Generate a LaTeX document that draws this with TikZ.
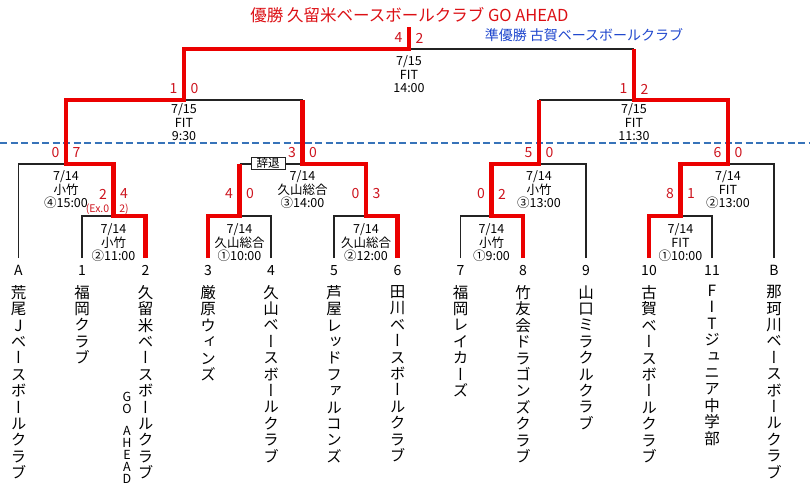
\documentclass[tikz,border=0pt]{standalone}
\usepackage{fontspec}
\setmainfont{Noto Sans CJK JP}
\newfontfamily\tatefont[RawFeature=+vert]{Noto Sans CJK JP}
\definecolor{winred}{RGB}{235, 0, 0}
\definecolor{scorered}{RGB}{205, 20, 30}
\definecolor{titlered}{RGB}{220, 15, 20}
\definecolor{runnerblue}{RGB}{30, 70, 205}
\definecolor{dashblue}{RGB}{55, 115, 185}
\definecolor{linegray}{RGB}{35, 35, 35}
\usepackage{tikz}
\usetikzlibrary{positioning}

% vertical team names: one character per line
\newcommand\tate[1]{\tatefirst#1\relax}
\def\tatefirst#1{#1\tatenext}
\def\tatenext#1{\ifx#1\relax\else\\#1\expandafter\tatenext\fi}

\begin{document}
\begin{tikzpicture}[x=1pt, y=-1pt,
  loser/.style={draw=linegray, line width=1.3pt},
  winner/.style={draw=winred, line width=4.5pt},
  score/.style={text=scorered, font=\fontsize{14}{14}\selectfont, inner sep=0pt},
  exnote/.style={text=scorered, font=\fontsize{10.5}{10.5}\selectfont, inner sep=0pt},
  info/.style={font=\fontsize{12.5}{13.5}\selectfont, align=center, inner sep=0pt, anchor=north},
  teamno/.style={font=\fontsize{14}{14}\selectfont, inner sep=0pt},
  teamname/.style={font=\tatefont\fontsize{15.5}{16.4}\selectfont, align=center, inner sep=0pt}]
  \useasboundingbox (0,0) rectangle (810,503);

  % Titles
  \node[font=\fontsize{16.5}{16.5}\selectfont, text=titlered] (champ) at (409.5,15) {優勝 久留米ベースボールクラブ GO AHEAD};
  \node[font=\fontsize{14}{14}\selectfont, text=runnerblue] (runner) at (584,35) {準優勝 古賀ベースボールクラブ};

  % Leaves
  \coordinate (tA) at (18.5,258);
  \coordinate (t1) at (82,258);
  \coordinate (t2) at (145.5,258);
  \coordinate (t3) at (208,258);
  \coordinate (t4) at (271,258);
  \coordinate (t5) at (334,258);
  \coordinate (t6) at (397.5,258);
  \coordinate (t7) at (460.5,258);
  \coordinate (t8) at (523,258);
  \coordinate (t9) at (586,258);
  \coordinate (t10) at (649,258);
  \coordinate (t11) at (712,258);
  \coordinate (tB) at (774,258);

  % Match points
  \coordinate (m12) at (113.5,216);
  \coordinate (m34) at (239.5,216);
  \coordinate (m56) at (366,216);
  \coordinate (m78) at (491.5,216);
  \coordinate (m1011) at (680.5,216);
  \coordinate (qA) at (66,164);
  \coordinate (qB) at (302.5,164);
  \coordinate (qC) at (539,164);
  \coordinate (qD) at (728,164);
  \coordinate (sL) at (184,100);
  \coordinate (sR) at (634,100);
  \coordinate (fin) at (409,49);
  \coordinate (top) at (409,27);

  % Day separator
  \coordinate (dayL) at (0,143);
  \coordinate (dayR) at (810,143);
  \draw[dashblue, line width=1.2pt, dash pattern=on 7pt off 3.5pt] (dayL) -- (dayR);

  % Losing lines
  \draw[loser] (t1) |- (m12);
  \draw[loser] (t4) |- (m34);
  \draw[loser] (t5) |- (m56);
  \draw[loser] (t7) |- (m78);
  \draw[loser] (t11) |- (m1011);
  \draw[loser] (tA) |- (qA);
  \draw[loser] (m34 |- qB) -- (qB);
  \draw[loser] (t9) |- (qC);
  \draw[loser] (tB) |- (qD);
  \draw[loser] (qB |- sL) -- (sL);
  \draw[loser] (qC |- sR) -- (sR);
  \draw[loser] (sR |- fin) -- (fin);

  % Winning lines
  \draw[winner] (t2) |- (m12) |- (qA) |- (sL) |- (fin) -- (top);
  \draw[winner] (t3) |- (m34) -- (m34 |- qB);
  \draw[winner] (t6) |- (m56) |- (qB) -- (qB |- sL);
  \draw[winner] (t8) |- (m78) |- (qC) -- (qC |- sR);
  \draw[winner] (t10) |- (m1011) |- (qD) |- (sR) -- (sR |- fin);

  % Withdrawal
  \node[draw=linegray, line width=0.8pt, fill=white, font=\fontsize{11.5}{11.5}\selectfont, minimum width=34pt, minimum height=12.5pt, inner sep=0.5pt] (jitai) at (268,163.5) {辞退};

  % Scores
  \node[score, xshift=-10.5pt, yshift=22pt] (sc12a) at (m12) {2};
  \node[score, xshift=10.5pt, yshift=22pt] (sc12b) at (m12) {4};
  \node[exnote, xshift=-16pt, yshift=7pt] (ex12a) at (m12) {(Ex.0};
  \node[exnote, xshift=10.5pt, yshift=7pt] (ex12b) at (m12) {2)};
  \node[score, xshift=-10.5pt, yshift=22pt] (sc34a) at (m34) {4};
  \node[score, xshift=10.5pt, yshift=22pt] (sc34b) at (m34) {0};
  \node[score, xshift=-10.5pt, yshift=22pt] (sc56a) at (m56) {0};
  \node[score, xshift=10.5pt, yshift=22pt] (sc56b) at (m56) {3};
  \node[score, xshift=-10.5pt, yshift=22pt] (sc78a) at (m78) {0};
  \node[score, xshift=10.5pt, yshift=22pt] (sc78b) at (m78) {2};
  \node[score, xshift=-10.5pt, yshift=22pt] (sc1011a) at (m1011) {8};
  \node[score, xshift=10.5pt, yshift=22pt] (sc1011b) at (m1011) {1};
  \node[score, xshift=-10.5pt, yshift=11pt] (scqAa) at (qA) {0};
  \node[score, xshift=10.5pt, yshift=11pt] (scqAb) at (qA) {7};
  \node[score, xshift=-10.5pt, yshift=11pt] (scqBa) at (qB) {3};
  \node[score, xshift=10.5pt, yshift=11pt] (scqBb) at (qB) {0};
  \node[score, xshift=-10.5pt, yshift=11pt] (scqCa) at (qC) {5};
  \node[score, xshift=10.5pt, yshift=11pt] (scqCb) at (qC) {0};
  \node[score, xshift=-10.5pt, yshift=11pt] (scqDa) at (qD) {6};
  \node[score, xshift=10.5pt, yshift=11pt] (scqDb) at (qD) {0};
  \node[score, xshift=-10.5pt, yshift=11pt] (scsLa) at (sL) {1};
  \node[score, xshift=10.5pt, yshift=11pt] (scsLb) at (sL) {0};
  \node[score, xshift=-10.5pt, yshift=11pt] (scsRa) at (sR) {1};
  \node[score, xshift=10.5pt, yshift=11pt] (scsRb) at (sR) {2};
  \node[score, xshift=-10.5pt, yshift=11pt] (scfina) at (fin) {4};
  \node[score, xshift=10.5pt, yshift=11pt] (scfinb) at (fin) {2};

  % Dates and grounds
  \node[info, yshift=-7.5pt] (in12) at (m12) {7/14\\小竹\\②11:00};
  \node[info, yshift=-7.5pt] (in34) at (m34) {7/14\\久山総合\\①10:00};
  \node[info, yshift=-7.5pt] (in56) at (m56) {7/14\\久山総合\\②12:00};
  \node[info, yshift=-7.5pt] (in78) at (m78) {7/14\\小竹\\①9:00};
  \node[info, yshift=-7.5pt] (in1011) at (m1011) {7/14\\FIT\\①10:00};
  \node[info, yshift=-6.5pt] (inqA) at (qA) {7/14\\小竹\\④15:00};
  \node[info, yshift=-6.5pt] (inqB) at (qB) {7/14\\久山総合\\③14:00};
  \node[info, yshift=-6.5pt] (inqC) at (qC) {7/14\\小竹\\③13:00};
  \node[info, yshift=-6.5pt] (inqD) at (qD) {7/14\\FIT\\②13:00};
  \node[info, yshift=-3.5pt] (insL) at (sL) {7/15\\FIT\\9:30};
  \node[info, yshift=-3.5pt] (insR) at (sR) {7/15\\FIT\\11:30};
  \node[info, yshift=-6.5pt] (infin) at (fin) {7/15\\FIT\\14:00};

  % Teams
  \node[teamno, below=7pt of tA] (nA) {A};
  \node[teamno, below=7pt of t1] (n1) {1};
  \node[teamno, below=7pt of t2] (n2) {2};
  \node[teamno, below=7pt of t3] (n3) {3};
  \node[teamno, below=7pt of t4] (n4) {4};
  \node[teamno, below=7pt of t5] (n5) {5};
  \node[teamno, below=7pt of t6] (n6) {6};
  \node[teamno, below=7pt of t7] (n7) {7};
  \node[teamno, below=7pt of t8] (n8) {8};
  \node[teamno, below=7pt of t9] (n9) {9};
  \node[teamno, below=7pt of t10] (n10) {10};
  \node[teamno, below=7pt of t11] (n11) {11};
  \node[teamno, below=7pt of tB] (nB) {B};

  \node[teamname, below=9.5pt of nA] (nmA) {\tate{荒尾Jベースボールクラブ}};
  \node[teamname, below=9.5pt of n1] (nm1) {\tate{福岡クラブ}};
  \node[teamname, below=9.5pt of n2] (nm2) {\tate{久留米ベースボールクラブ}};
  \node[teamname, below=9.5pt of n3] (nm3) {\tate{厳原ウィンズ}};
  \node[teamname, below=9.5pt of n4] (nm4) {\tate{久山ベースボールクラブ}};
  \node[teamname, below=9.5pt of n5] (nm5) {\tate{芦屋レッドファルコンズ}};
  \node[teamname, below=9.5pt of n6] (nm6) {\tate{田川ベースボールクラブ}};
  \node[teamname, below=9.5pt of n7] (nm7) {\tate{福岡レイカーズ}};
  \node[teamname, below=9.5pt of n8] (nm8) {\tate{竹友会ドラゴンズクラブ}};
  \node[teamname, below=9.5pt of n9] (nm9) {\tate{山口ミラクルクラブ}};
  \node[teamname, below=9.5pt of n10] (nm10) {\tate{古賀ベースボールクラブ}};
  \node[teamname, below=9.5pt of n11] (nm11) {\tate{FITジュニア中学部}};
  \node[teamname, below=9.5pt of nB] (nmB) {\tate{那珂川ベースボールクラブ}};
  \node[font=\fontsize{12.5}{12}\selectfont, align=center, inner sep=0pt, anchor=north] (ga2) at (127,392) {G\\O\\[10pt]A\\H\\E\\A\\D};
\end{tikzpicture}
\end{document}
